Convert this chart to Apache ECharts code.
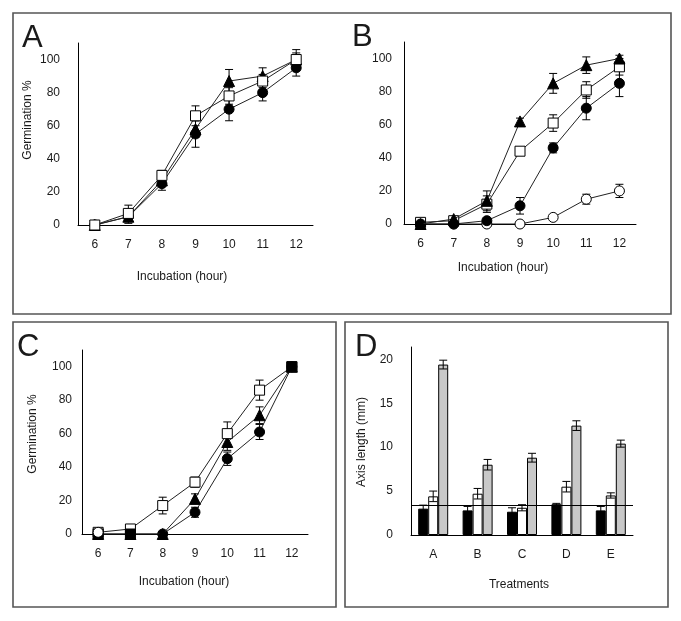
<!DOCTYPE html>
<html><head><meta charset="utf-8">
<script src="https://cdn.jsdelivr.net/npm/echarts@6/dist/echarts.min.js"></script>
<style>html,body{margin:0;padding:0;background:#fff}#c{width:681px;height:621px}</style>
</head><body><div id="c"></div>
<script>
// ---------- data ----------
const hours = ['6', '7', '8', '9', '10', '11', '12'];
const yTicksPct = [0, 20, 40, 60, 80, 100];

// Panel A
const A_triangle = [0, 5, 27, 58, 87, 90, 100];
const A_triangleErr = [0, 2, 3, 5, 7, 5, 4];
const A_openSquare = [0, 7, 30, 66, 78, 87, 100];
const A_openSquareErr = [0, 5, 3, 6, 5, 4, 6];
const A_filledCircle = [0, 5, 25, 55, 70, 80, 95];
const A_filledCircleErr = [0, 4, 4, 8, 7, 5, 5];

// Panel B
const B_triangle = [0, 3, 14, 62, 85, 96, 100];
const B_triangleErr = [0, 1, 6, 2, 6, 5, 2];
const B_openSquare = [1, 2, 12, 44, 61, 81, 95];
const B_openSquareErr = [1, 1, 5, 2, 5, 5, 5];
const B_filledCircle = [0, 0, 2, 11, 46, 70, 85];
const B_filledCircleErr = [0, 0, 1, 5, 3, 7, 8];
const B_openCircle = [0, 0, 0, 0, 4, 15, 20];
const B_openCircleErr = [0, 0, 0, 0, 1, 3, 4];

// Panel C
const C_openSquare = [1, 3, 17, 31, 60, 86, 100];
const C_openSquareErr = [0, 0, 5, 3, 7, 6, 0];
const C_triangle = [0, 0, 0, 21, 55, 71, 100];
const C_triangleErr = [0, 0, 0, 3, 5, 5, 0];
const C_filledCircle = [0, 0, 0, 13, 45, 61, 100];
const C_filledCircleErr = [0, 0, 0, 3, 4, 4.5, 0];
const C_filledSquare = [0, 0, null, null, null, null, 100];
const C_openCircle = [1, null, null, null, null, null, null];

// Panel D
const treatments = ['A', 'B', 'C', 'D', 'E'];
const D_black = [3.0, 2.8, 2.65, 3.5, 2.8];
const D_blackErr = [0.4, 0.45, 0.45, 0.1, 0.45];
const D_white = [4.4, 4.7, 3.1, 5.5, 4.5];
const D_whiteErr = [0.6, 0.6, 0.35, 0.6, 0.3];
const D_gray = [19.4, 8.0, 8.8, 12.45, 10.4];
const D_grayErr = [0.5, 0.6, 0.5, 0.55, 0.4];
const D_reference = 3.4;

// ---------- helpers ----------
const FONT = '"Liberation Sans", Arial, sans-serif';
const TXT = '#1a1a1a';

function errSeries(grid, vals, errs, offset) {
  return {
    type: 'custom', xAxisIndex: grid, yAxisIndex: grid, z: 3, silent: true,
    data: vals.map((v, i) => [i, v, errs[i]]),
    renderItem: function (params, api) {
      const x = api.value(0), v = api.value(1), e = api.value(2);
      if (!e || v === null || isNaN(v)) return;
      const t = api.coord([x, v + e]);
      const b = api.coord([x, Math.max(v - e, 0)]);
      const cx = t[0] + offset, h = 4;
      const st = { stroke: '#000', lineWidth: 1 };
      return { type: 'group', children: [
        { type: 'line', shape: { x1: cx, y1: t[1], x2: cx, y2: b[1] }, style: st },
        { type: 'line', shape: { x1: cx - h, y1: t[1], x2: cx + h, y2: t[1] }, style: st },
        { type: 'line', shape: { x1: cx - h, y1: b[1], x2: cx + h, y2: b[1] }, style: st }
      ] };
    }
  };
}

function lineSeries(grid, data, symbol, filled, z) {
  return {
    type: 'line', xAxisIndex: grid, yAxisIndex: grid, data: data,
    symbol: symbol, symbolSize: symbol === 'triangle' ? 11 : 10,
    showAllSymbol: true, z: z || 4,
    lineStyle: { color: '#222', width: 1 },
    itemStyle: { color: filled ? '#000' : '#fff', borderColor: '#000', borderWidth: 1 },
    emphasis: { disabled: true }, animation: false
  };
}

function xCat(grid, cats) {
  return {
    type: 'category', gridIndex: grid, data: cats, boundaryGap: true,
    axisLine: { lineStyle: { color: '#000', width: 1 } },
    axisTick: { show: false },
    axisLabel: { color: TXT, fontSize: 12, fontFamily: FONT, margin: 14 }
  };
}
function yVal(grid, max, interval, margin) {
  return {
    type: 'value', gridIndex: grid, min: 0, max: max, interval: interval,
    axisLine: { show: true, lineStyle: { color: '#000', width: 1 } },
    axisTick: { show: false }, splitLine: { show: false },
    axisLabel: { color: TXT, fontSize: 12, fontFamily: FONT, margin: margin,
      formatter: v => (v % interval === 0 ? String(v) : '') }
  };
}

function txt(x, y, s, size, rot, align) {
  return { type: 'text', x: x, y: y, rotation: rot || 0,
    style: { text: s, font: size + 'px ' + FONT, fill: TXT, textAlign: align || 'center', textVerticalAlign: 'middle' } };
}
function box(x, y, w, h) {
  return { type: 'rect', shape: { x: x, y: y, width: w, height: h }, z: 0,
    style: { fill: 'none', stroke: '#555', lineWidth: 1.6 } };
}

const chart = echarts.init(document.getElementById('c'), null, { renderer: 'canvas' });
chart.setOption({
  animation: false,
  backgroundColor: '#fff',
  grid: [
    { left: 78, top: 43, width: 235, height: 182 },
    { left: 404, top: 42, width: 232, height: 182 },
    { left: 82, top: 350, width: 226, height: 184 },
    { left: 411, top: 347, width: 222, height: 188 }
  ],
  xAxis: [xCat(0, hours), xCat(1, hours), xCat(2, hours), xCat(3, treatments)],
  yAxis: [yVal(0, 110, 20, 18), yVal(1, 110, 20, 12), yVal(2, 110, 20, 10), yVal(3, 21.4, 5, 18)],
  graphic: [
    box(13, 13, 658, 301), box(13, 322, 323, 285), box(345, 322, 323, 285),
    txt(22, 38, 'A', 31, 0, 'left'), txt(352, 37, 'B', 31, 0, 'left'),
    txt(17, 347, 'C', 31, 0, 'left'), txt(355, 347, 'D', 31, 0, 'left'),
    txt(28, 120, 'Germination %', 12, Math.PI / 2),
    txt(33, 434, 'Germination %', 12, Math.PI / 2),
    txt(362, 442, 'Axis length (mm)', 12, Math.PI / 2),
    txt(182, 277, 'Incubation (hour)', 12),
    txt(503, 268, 'Incubation (hour)', 12),
    txt(184, 582, 'Incubation (hour)', 12),
    txt(519, 585, 'Treatments', 12)
  ],
  series: [
    // A
    errSeries(0, A_triangle, A_triangleErr, 0),
    errSeries(0, A_openSquare, A_openSquareErr, 0),
    errSeries(0, A_filledCircle, A_filledCircleErr, 0),
    lineSeries(0, A_filledCircle, 'circle', true, 4),
    lineSeries(0, A_triangle, 'triangle', true, 5),
    lineSeries(0, A_openSquare, 'rect', false, 6),
    // B
    errSeries(1, B_triangle, B_triangleErr, 0),
    errSeries(1, B_openSquare, B_openSquareErr, 0),
    errSeries(1, B_filledCircle, B_filledCircleErr, 0),
    errSeries(1, B_openCircle, B_openCircleErr, 0),
    lineSeries(1, B_openCircle, 'circle', false, 4),
    lineSeries(1, B_openSquare, 'rect', false, 5),
    lineSeries(1, B_filledCircle, 'circle', true, 6),
    lineSeries(1, B_triangle, 'triangle', true, 7),
    // C
    errSeries(2, C_openSquare, C_openSquareErr, 0),
    errSeries(2, C_triangle, C_triangleErr, 0),
    errSeries(2, C_filledCircle, C_filledCircleErr, 0),
    lineSeries(2, C_filledCircle, 'circle', true, 4),
    lineSeries(2, C_triangle, 'triangle', true, 5),
    lineSeries(2, C_openSquare, 'rect', false, 6),
    Object.assign(lineSeries(2, C_filledSquare, 'rect', true, 7), { lineStyle: { opacity: 0 } }),
    lineSeries(2, C_openCircle, 'circle', false, 8),
    // D
    { type: 'bar', xAxisIndex: 3, yAxisIndex: 3, data: D_black, barWidth: 10, barGap: '0%', z: 2,
      itemStyle: { color: '#000', borderColor: '#000', borderWidth: 1 },
      markLine: { silent: true, symbol: 'none', label: { show: false },
        lineStyle: { color: '#000', width: 1.2, type: 'solid' }, data: [{ yAxis: D_reference }] } },
    { type: 'bar', xAxisIndex: 3, yAxisIndex: 3, data: D_white, barWidth: 10, barGap: '0%', z: 2,
      itemStyle: { color: '#fff', borderColor: '#000', borderWidth: 1 } },
    { type: 'bar', xAxisIndex: 3, yAxisIndex: 3, data: D_gray, barWidth: 10, barGap: '0%', z: 2,
      itemStyle: { color: '#c8c8c8', borderColor: '#000', borderWidth: 1 } },
    errSeries(3, D_black, D_blackErr, -10),
    errSeries(3, D_white, D_whiteErr, 0),
    errSeries(3, D_gray, D_grayErr, 10)
  ]
});
</script>
</body></html>
